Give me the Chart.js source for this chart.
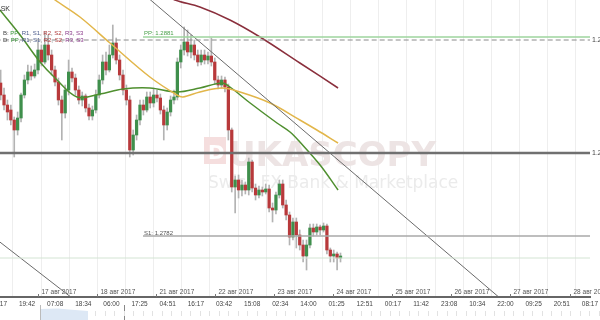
<!DOCTYPE html>
<html>
<head>
<meta charset="utf-8">
<script src="https://cdn.jsdelivr.net/npm/chart.js@4.4.1/dist/chart.umd.min.js"></script>
<style>
html, body { margin: 0; padding: 0; background: #fff; }
#wrap { width: 600px; height: 320px; position: relative; }
</style>
</head>
<body>
<div id="wrap"><canvas id="chart"></canvas></div>
<script>
// candles: x in trading hours from 17 Aug 00:00
var candleStart = -15, candleStep = 1.38;

var opens = [1.28585,1.28525,1.28475,1.28450,1.28400,1.28350,1.28410,1.28525,1.28600,1.28640,
  1.28620,1.28650,1.28750,1.28690,1.28775,1.28725,1.28650,1.28590,1.28500,1.28435,
  1.28550,1.28640,1.28610,1.28550,1.28500,1.28520,1.28460,1.28420,1.28450,1.28525,
  1.28600,1.28690,1.28650,1.28725,1.28785,1.28700,1.28625,1.28550,1.28500,1.28250,
  1.28325,1.28400,1.28475,1.28450,1.28515,1.28485,1.28525,1.28510,1.28450,1.28375,
  1.28440,1.28500,1.28515,1.28690,1.28750,1.28790,1.28740,1.28775,1.28725,1.28690,
  1.28725,1.28700,1.28720,1.28690,1.28600,1.28575,1.28600,1.28565,1.28350,1.28065,
  1.28100,1.28050,1.28075,1.28050,1.28190,1.28060,1.28025,1.28050,1.28040,1.28055,
  1.27960,1.27950,1.28025,1.28080,1.27975,1.27925,1.27815,1.27890,1.27825,1.27775,
  1.27720,1.27775,1.27860,1.27840,1.27865,1.27850,1.27870,1.27750,1.27720,1.27730,
  1.27710];
var highs = [1.28650,1.28560,1.28500,1.28475,1.28415,1.28440,1.28535,1.28625,1.28675,1.28670,
  1.28680,1.28790,1.28775,1.28840,1.28825,1.28750,1.28670,1.28610,1.28520,1.28575,
  1.28700,1.28660,1.28630,1.28570,1.28540,1.28530,1.28480,1.28470,1.28550,1.28625,
  1.28725,1.28740,1.28775,1.28875,1.28810,1.28725,1.28650,1.28575,1.28520,1.28350,
  1.28425,1.28500,1.28500,1.28540,1.28540,1.28560,1.28550,1.28530,1.28470,1.28460,
  1.28520,1.28550,1.28710,1.28775,1.28865,1.28850,1.28825,1.28800,1.28750,1.28750,
  1.28750,1.28740,1.28810,1.28710,1.28620,1.28620,1.28615,1.28580,1.28360,1.28120,
  1.28125,1.28100,1.28090,1.28210,1.28200,1.28080,1.28070,1.28065,1.28080,1.28075,
  1.27985,1.28040,1.28100,1.28100,1.28000,1.27940,1.27910,1.27910,1.27850,1.27800,
  1.27800,1.27880,1.27880,1.27880,1.27875,1.27885,1.27880,1.27760,1.27750,1.27740,
  1.27735];
var lows = [1.28500,1.28450,1.28400,1.28375,1.28215,1.28325,1.28390,1.28510,1.28580,1.28600,
  1.28610,1.28630,1.28670,1.28680,1.28700,1.28625,1.28570,1.28475,1.28300,1.28410,
  1.28525,1.28590,1.28525,1.28480,1.28470,1.28440,1.28400,1.28400,1.28435,1.28510,
  1.28580,1.28625,1.28640,1.28710,1.28680,1.28600,1.28525,1.28475,1.28215,1.28225,
  1.28300,1.28375,1.28425,1.28440,1.28460,1.28465,1.28490,1.28430,1.28300,1.28350,
  1.28420,1.28480,1.28500,1.28660,1.28725,1.28720,1.28710,1.28700,1.28670,1.28675,
  1.28680,1.28680,1.28670,1.28580,1.28555,1.28560,1.28540,1.28300,1.28040,1.27935,
  1.28010,1.28020,1.28030,1.28025,1.28040,1.28000,1.28010,1.28020,1.28030,1.27940,
  1.27890,1.27930,1.28010,1.27960,1.27900,1.27775,1.27800,1.27760,1.27750,1.27690,
  1.27650,1.27760,1.27820,1.27825,1.27825,1.27840,1.27730,1.27690,1.27690,1.27650,
  1.27690];
var closes = [1.28525,1.28475,1.28440,1.28400,1.28350,1.28410,1.28525,1.28600,1.28640,1.28620,
  1.28650,1.28750,1.28690,1.28775,1.28725,1.28650,1.28590,1.28500,1.28435,1.28550,
  1.28640,1.28610,1.28550,1.28500,1.28520,1.28460,1.28420,1.28450,1.28525,1.28600,
  1.28690,1.28650,1.28725,1.28785,1.28700,1.28625,1.28550,1.28500,1.28250,1.28325,
  1.28400,1.28475,1.28450,1.28515,1.28485,1.28525,1.28510,1.28450,1.28375,1.28440,
  1.28500,1.28515,1.28690,1.28750,1.28790,1.28740,1.28775,1.28725,1.28690,1.28725,
  1.28700,1.28720,1.28690,1.28600,1.28575,1.28600,1.28565,1.28350,1.28065,1.28100,
  1.28050,1.28075,1.28050,1.28190,1.28060,1.28025,1.28050,1.28040,1.28055,1.27960,
  1.27950,1.28025,1.28080,1.27975,1.27925,1.27815,1.27890,1.27825,1.27775,1.27720,
  1.27775,1.27860,1.27840,1.27865,1.27850,1.27870,1.27750,1.27720,1.27730,1.27710,
  1.27720];

// moving averages and trend lines [hours, price]
var maGreen = [[-15.3,1.2895],[-7.1,1.28825],[1.0,1.2869],[7.1,1.2861],[16.0,1.28515],[25.3,1.2853],
  [34.7,1.28555],[45.6,1.2856],[56.6,1.2854],[65.9,1.2856],[74.9,1.28585],[78.1,1.28565],
  [86.3,1.28485],[97.2,1.28385],[102.5,1.2834],[106.5,1.2829],[114.7,1.28175],[122.0,1.2805]];
var maOrange = [[3.0,1.2904],[7.1,1.2900],[17.2,1.28915],[29.4,1.28785],[45.6,1.28615],[56.6,1.28525],
  [59.0,1.28515],[65.9,1.2854],[74.9,1.2856],[82.2,1.2854],[94.4,1.28485],[106.5,1.2840],
  [113.4,1.2835],[122.0,1.28285]];
var maRed = [[51.8,1.2903],[55.8,1.2900],[65.9,1.28965],[78.1,1.2890],[90.3,1.28815],[106.5,1.28685],[122.0,1.2856]];
var trendA = [[41.6,1.29045],[187.7,1.2751]];
var trendB = [[-17,1.27806],[14.0,1.2751]];

// horizontal levels
var levelPP = 1.28815, levelS1 = 1.2782, levelThick = 1.28235, levelDash = 1.2880, levelLow = 1.2771;
var levelLabels = ['PP: 1.2881', 'S1: 1.2782'];
var levelFrom = 42.8;

// axis labels
var dateLabels = ['17 авг 2017','18 авг 2017','21 авг 2017','22 авг 2017','23 авг 2017',
  '24 авг 2017','25 авг 2017','26 авг 2017','27 авг 2017','28 авг 2017'];
var timeLabels = ['08:17','19:42','07:08','18:34','06:00','17:25','04:51','16:17','03:42','15:08','02:34',
  '14:00','01:25','12:51','00:17','11:42','23:08','10:34','22:00','09:25','20:51','08:17'];
var timeStart = -15.72, timeStep = 11.4278;
var priceTicks = [1.2880, 1.28235];

var xMin = -15.26, xMax = 224.3;

var wickData = [], bodyData = [], bodyColors = [];
for (var i = 0; i < opens.length; i++) {
  var t = candleStart + i * candleStep;
  wickData.push({ x: t, y: [lows[i], highs[i]] });
  bodyData.push({ x: t, y: [opens[i], closes[i]] });
  bodyColors.push(closes[i] >= opens[i] ? '#3f8f4c' : '#b8393b');
}

function pts(arr) { return arr.map(function (p) { return { x: p[0], y: p[1] }; }); }
function hline(v, from) { return [{ x: from, y: v }, { x: xMax + 5, y: v }]; }

function lineSet(data, color, width, extra) {
  var d = { type: 'line', data: data, borderColor: color, borderWidth: width, pointRadius: 0,
    fill: false, tension: 0.35, order: 1 };
  for (var k in extra) d[k] = extra[k];
  return d;
}

var decor = {
  id: 'decor',
  beforeDatasetsDraw: function (chart) {
    var ctx = chart.ctx;
    ctx.save();
    // watermark
    ctx.fillStyle = '#f5dede';
    ctx.fillRect(204, 137, 22, 27);
    ctx.fillStyle = '#fff';
    ctx.font = 'bold 20px "DejaVu Sans"';
    ctx.textBaseline = 'alphabetic';
    ctx.fillText('D', 208, 159);
    ctx.fillStyle = '#ede4e4';
    ctx.font = 'bold 34px "DejaVu Sans"';
    ctx.fillText('UKASCOPY', 228, 166);
    ctx.fillStyle = '#ebebeb';
    ctx.font = '17px "DejaVu Sans"';
    ctx.fillText('Swiss FX Bank & Marketplace', 208, 188);
    ctx.restore();
  },
  afterDraw: function (chart) {
    var ctx = chart.ctx, xs = chart.scales.x, ys = chart.scales.y;
    var bottom = chart.chartArea.bottom;
    ctx.save();
    // date labels above axis
    ctx.font = '6.5px "Liberation Sans"';
    ctx.fillStyle = '#555';
    ctx.strokeStyle = '#777';
    ctx.lineWidth = 1;
    ctx.textBaseline = 'alphabetic';
    dateLabels.forEach(function (lab, k) {
      var px = Math.round(xs.getPixelForValue(k * 24)) + 0.5;
      ctx.beginPath(); ctx.moveTo(px, bottom - 3); ctx.lineTo(px, bottom); ctx.stroke();
      ctx.fillText(lab, px + 3, bottom - 3);
    });
    // level labels
    ctx.font = '6px "Liberation Sans"';
    var lx = xs.getPixelForValue(levelFrom) + 1;
    ctx.fillStyle = '#4aa04a';
    ctx.fillText(levelLabels[0], lx, ys.getPixelForValue(levelPP) - 2);
    ctx.fillStyle = '#555';
    ctx.fillText(levelLabels[1], lx, ys.getPixelForValue(levelS1) - 1);
    // top-left legend
    ctx.font = '7px "Liberation Sans"';
    ctx.fillStyle = '#333';
    ctx.fillText('ASK', -4, 11);
    var rows = [['B: ', 35], ['D: ', 42]];
    rows.forEach(function (r) {
      var segs = [[r[0], '#444'], ['PP', '#3a963a'], [', ', '#444'], ['R1', '#4a5a8a'], [', ', '#444'],
        ['S1', '#4a5a8a'], [', ', '#444'], ['R2', '#b03a3a'], [', ', '#444'], ['S2', '#b03a3a'],
        [', ', '#444'], ['R3', '#8a3a8a'], [', ', '#444'], ['S3', '#8a3a8a']];
      var x = 3;
      ctx.font = '6px "Liberation Sans"';
      segs.forEach(function (s) {
        ctx.fillStyle = s[1];
        ctx.fillText(s[0], x, r[1]);
        x += ctx.measureText(s[0]).width;
      });
    });
    // navigator strip
    ctx.fillStyle = '#dde8f5';
    ctx.beginPath();
    ctx.moveTo(40, 309); ctx.lineTo(58, 308.5); ctx.lineTo(75, 310); ctx.lineTo(88, 311);
    ctx.lineTo(88, 320); ctx.lineTo(40, 320); ctx.closePath(); ctx.fill();
    ctx.strokeStyle = '#bbb';
    ctx.beginPath(); ctx.moveTo(40.5, 305); ctx.lineTo(40.5, 320); ctx.stroke();
    ctx.strokeStyle = '#888';
    ctx.beginPath(); ctx.moveTo(124.5, 305); ctx.lineTo(124.5, 320); ctx.stroke();
    ctx.strokeStyle = '#e2e2e2';
    for (var gx = 95; gx < 600; gx += 9.5) {
      ctx.beginPath(); ctx.moveTo(Math.round(gx) + 0.5, 311); ctx.lineTo(Math.round(gx) + 0.5, 316); ctx.stroke();
    }
    ctx.restore();
  }
};

new Chart(document.getElementById('chart'), {
  type: 'bar',
  data: {
    datasets: [
      { type: 'bar', data: wickData, backgroundColor: '#b3b3b3', barThickness: 1, grouped: false, order: 10 },
      { type: 'bar', data: bodyData, backgroundColor: bodyColors, barThickness: 2.6, grouped: false, order: 9 },
      lineSet(hline(levelLow, xMin - 5), '#d3e4d3', 1, { tension: 0 }),
      lineSet(hline(levelThick, xMin - 5), '#707070', 2.5, { tension: 0 }),
      lineSet(hline(levelDash, xMin - 5), '#8a8a8a', 1, { tension: 0, borderDash: [5, 3] }),
      lineSet(hline(levelPP, levelFrom), '#9ed49e', 1.5, { tension: 0 }),
      lineSet(hline(levelS1, levelFrom), '#a8a8a8', 1.5, { tension: 0 }),
      lineSet(pts(trendA), '#6a6a6a', 1, { tension: 0 }),
      lineSet(pts(trendB), '#6a6a6a', 1, { tension: 0 }),
      lineSet(pts(maRed), '#8a2f3c', 1.5),
      lineSet(pts(maOrange), '#e2b64a', 1.5),
      lineSet(pts(maGreen), '#4f8f2f', 1.5)
    ]
  },
  options: {
    responsive: true,
    maintainAspectRatio: false,
    animation: false,
    layout: { padding: 0 },
    plugins: { legend: { display: false }, tooltip: { enabled: false } },
    scales: {
      x: {
        type: 'linear',
        min: xMin,
        max: xMax,
        offset: false,
        afterFit: function (s) { s.height = 23; s.paddingLeft = 0; s.paddingRight = 0; },
        afterBuildTicks: function (s) {
          s.ticks = timeLabels.map(function (l, k) { return { value: timeStart + k * timeStep }; });
        },
        grid: { color: '#eeeeee', drawTicks: false },
        border: { color: '#666', width: 2 },
        ticks: {
          autoSkip: false, maxRotation: 0, padding: 3,
          font: { family: 'Liberation Sans', size: 6.5 }, color: '#444',
          callback: function (v, idx) { return timeLabels[idx]; }
        }
      },
      y: {
        type: 'linear',
        position: 'right',
        min: 1.27515,
        max: 1.2900,
        afterFit: function (s) { s.width = 10; s.paddingTop = 0; s.paddingBottom = 0; },
        afterBuildTicks: function (s) {
          s.ticks = priceTicks.map(function (v) { return { value: v }; });
        },
        grid: { display: false, drawTicks: false },
        border: { display: false },
        ticks: {
          autoSkip: false, padding: 2, font: { family: 'Liberation Sans', size: 7 }, color: '#444',
          callback: function (v) { return v.toFixed(4); }
        }
      }
    }
  },
  plugins: [decor]
});
</script>
</body>
</html>
